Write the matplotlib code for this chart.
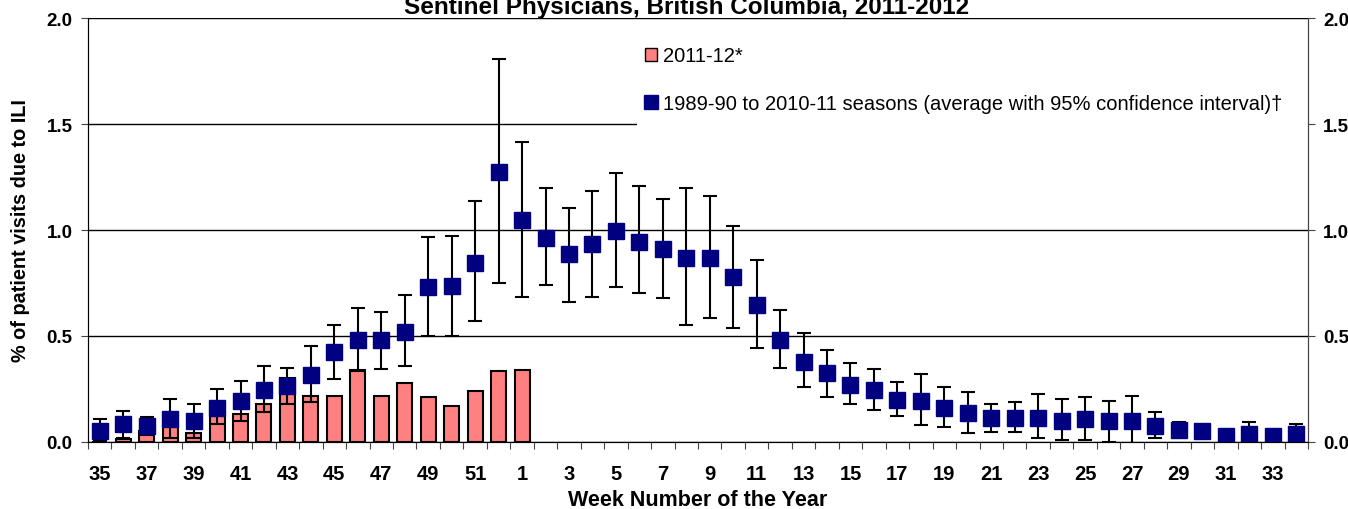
import matplotlib
matplotlib.use("Agg")
import matplotlib.pyplot as plt
from matplotlib.patches import Patch, Rectangle
from matplotlib.lines import Line2D
import numpy as np

plt.rcParams['font.family'] = ['Liberation Sans', 'DejaVu Sans']

# week numbers of the season (35..52, then 1..34)
weeks = list(range(35, 53)) + list(range(1, 35))

# 2011-12 season, % of visits due to ILI (data only to week 1)
season_2011 = [0.0, 0.014, 0.053, 0.077, 0.041, 0.124, 0.134, 0.179, 0.303, 0.218,
               0.218, 0.341, 0.218, 0.28, 0.211, 0.171, 0.241, 0.335, 0.341]

# 1989-90 to 2010-11 average with 95% CI
avg = [0.05, 0.083, 0.074, 0.107, 0.098, 0.159, 0.192, 0.244, 0.263, 0.315,
       0.423, 0.48, 0.48, 0.517, 0.73, 0.734, 0.843, 1.272, 1.046, 0.961,
       0.885, 0.932, 0.994, 0.945, 0.909, 0.866, 0.866, 0.777, 0.645, 0.48,
       0.376, 0.324, 0.269, 0.245, 0.197, 0.192, 0.16, 0.135, 0.113, 0.113,
       0.113, 0.098, 0.107, 0.098, 0.098, 0.074, 0.058, 0.05, 0.027, 0.038,
       0.027, 0.038]
ci_hi = [0.108, 0.148, 0.118, 0.203, 0.179, 0.25, 0.288, 0.358, 0.35, 0.453,
         0.552, 0.631, 0.615, 0.693, 0.965, 0.97, 1.135, 1.807, 1.415, 1.198,
         1.105, 1.184, 1.269, 1.208, 1.145, 1.198, 1.16, 1.019, 0.857, 0.623,
         0.514, 0.435, 0.374, 0.343, 0.281, 0.321, 0.258, 0.234, 0.179, 0.189,
         0.228, 0.203, 0.211, 0.195, 0.218, 0.143, 0.096, 0.06, 0.035, 0.096,
         0.035, 0.083]
ci_lo = [0.006, 0.02, 0.033, 0.017, 0.017, 0.086, 0.1, 0.14, 0.179, 0.187,
         0.297, 0.336, 0.343, 0.358, 0.499, 0.499, 0.569, 0.749, 0.686, 0.739,
         0.662, 0.686, 0.731, 0.701, 0.678, 0.553, 0.585, 0.539, 0.443, 0.351,
         0.258, 0.211, 0.181, 0.149, 0.124, 0.079, 0.071, 0.041, 0.049, 0.049,
         0.017, 0.009, 0.009, 0.001, -0.017, 0.017, 0.03, 0.04, 0.02, 0.0,
         0.02, 0.0]

x = np.arange(len(weeks))
avg = np.array(avg)
yerr = [avg - np.array(ci_lo), np.array(ci_hi) - avg]

fig = plt.figure(figsize=(13.48, 5.10), dpi=100)
ax = fig.add_axes([0.0653, 0.1314, 0.905, 0.8313])

ax.bar(x[:len(season_2011)], season_2011, width=0.64, color='#FF8080',
       edgecolor='black', linewidth=1.5, zorder=2)
ax.errorbar(x, avg, yerr=yerr, fmt='s', color='#000080', markersize=11,
            ecolor='black', elinewidth=1.5, capsize=5, capthick=1.5, zorder=3)

ax.set_xlim(-0.5, len(weeks) - 0.5)
ax.set_ylim(0, 2.0)
ytk = [0, 0.5, 1.0, 1.5, 2.0]
ytl = ['0.0', '0.5', '1.0', '1.5', '2.0']
ax.set_yticks(ytk)
ax.set_yticklabels(ytl, fontsize=13.5, fontweight='bold')
ax.yaxis.grid(True, color='black', linewidth=1)
ax.set_axisbelow(True)

# white area behind legend hides the 1.5 gridline there
ax.add_patch(Rectangle((0.45, 0.745), 0.55, 0.25, transform=ax.transAxes,
                       facecolor='white', edgecolor='none', zorder=1))

# tick marks between categories, labels on every other week
ax.set_xticks(np.arange(len(weeks) + 1) - 0.5)
ax.set_xticklabels([])
ax.tick_params(axis='x', which='major', length=5, direction='out', color='#444444')
ax.set_xticks(x[::2], minor=True)
ax.set_xticklabels([str(w) for w in weeks[::2]], minor=True, fontsize=14.5, fontweight='bold')
ax.tick_params(axis='x', which='minor', length=0, pad=16)
ax.tick_params(axis='y', length=5, direction='out', pad=6, color='#444444')

for s in ['left', 'right', 'bottom']:
    ax.spines[s].set_color('#444444')
ax.spines['top'].set_visible(False)

ax2 = ax.twinx()
ax2.set_ylim(0, 2.0)
ax2.set_yticks(ytk)
ax2.set_yticklabels(ytl, fontsize=13.5, fontweight='bold')
ax2.tick_params(axis='y', length=5, direction='out', pad=6, color='#444444')
ax2.spines['top'].set_visible(False)
ax2.spines['right'].set_color('#444444')

ax.set_ylabel('% of patient visits due to ILI', fontsize=14.3, fontweight='bold', labelpad=12)
ax.set_xlabel('Week Number of the Year', fontsize=15.5, fontweight='bold', labelpad=4)

handles = [Patch(facecolor='#FF8080', edgecolor='black', linewidth=1),
           Line2D([], [], linestyle='none', marker='s', markersize=10,
                  color='#000080')]
labels = ['2011-12*',
          '1989-90 to 2010-11 seasons (average with 95% confidence interval)\u2020']
leg = ax.legend(handles, labels, loc='upper left', bbox_to_anchor=(0.4566, 0.933),
                fontsize=14.5, frameon=False, labelspacing=1.4, handlelength=0.6,
                handleheight=0.6, handletextpad=0.3, borderpad=0, borderaxespad=0)
leg.set_zorder(5)

# title sits partly above the top edge, as in the source image
fig.text(0.509, 0.972, 'Sentinel Physicians, British Columbia, 2011-2012',
         ha='center', va='baseline', fontsize=17.5, fontweight='bold')

fig.savefig('out.png', dpi=100)
